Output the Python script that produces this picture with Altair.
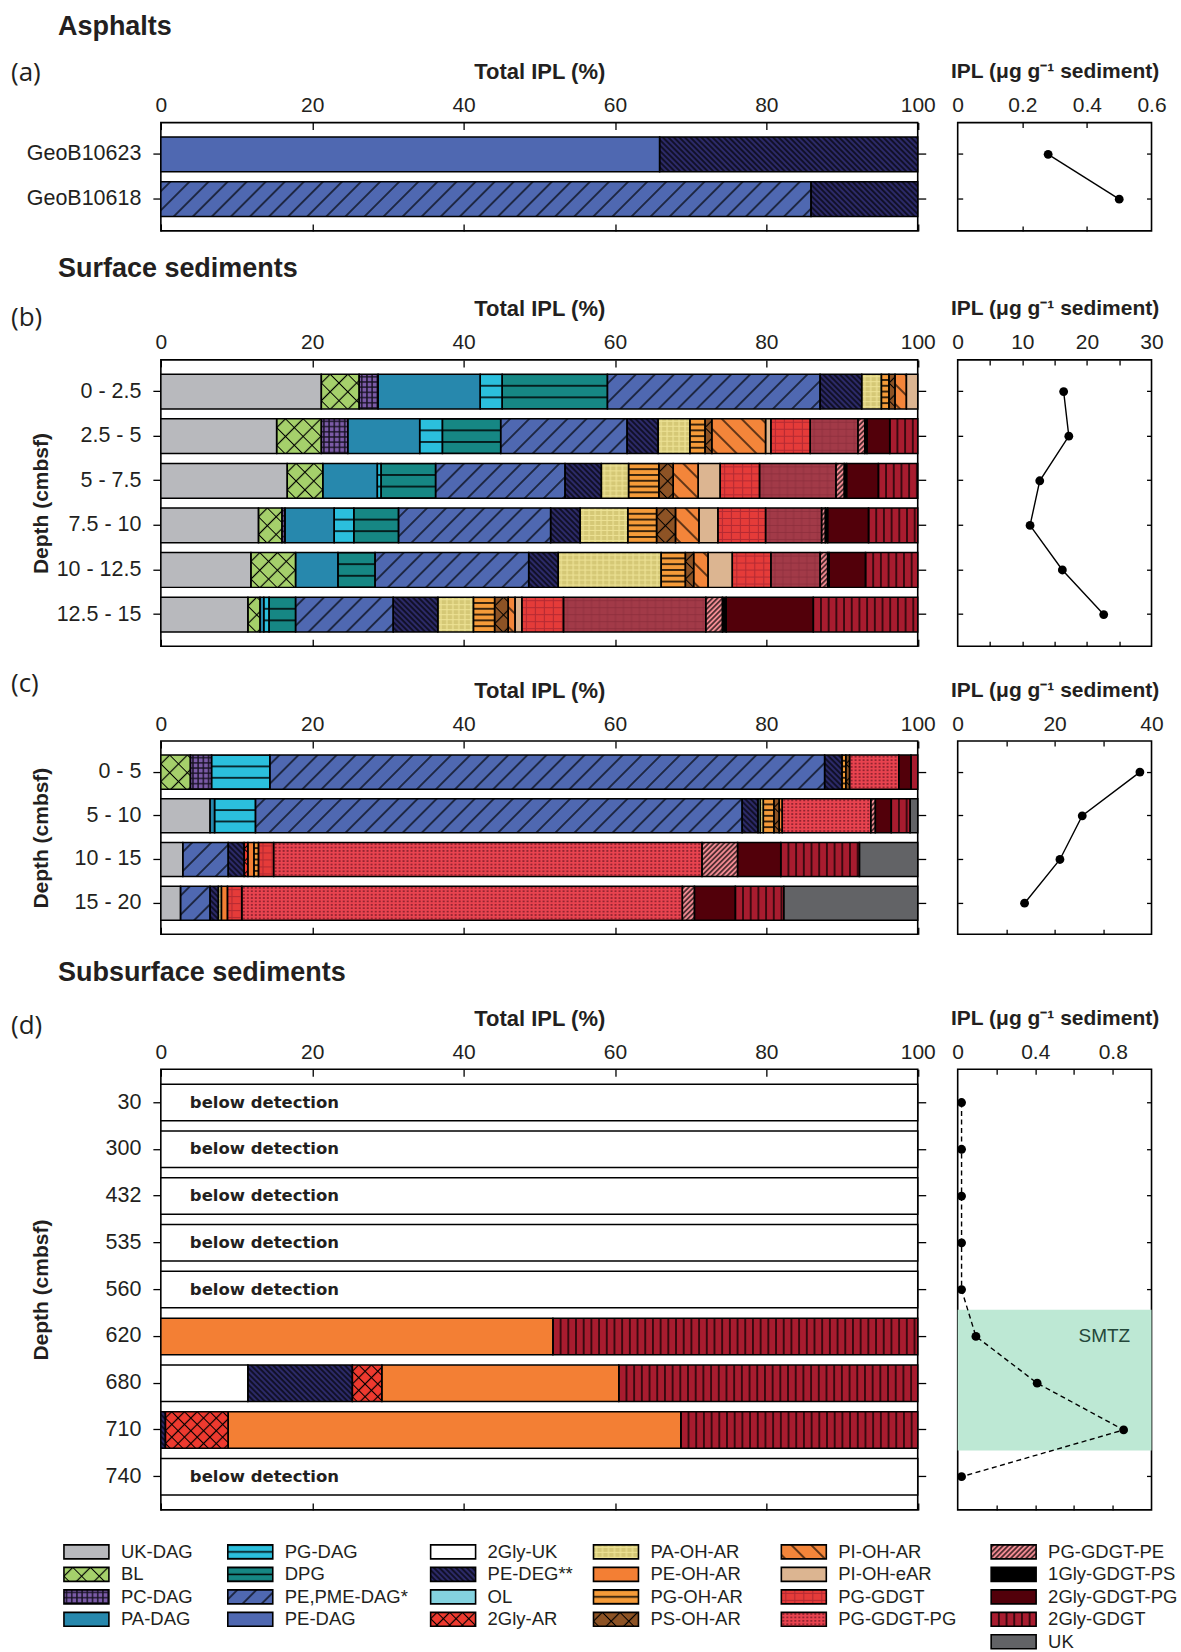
import base64

import altair as alt
import pandas as pd

# ---------------------------------------------------------------- lipid classes
# Stacking order inside every bar and order of the legend (column by column).
LIPIDS = [
    "UK-DAG", "BL", "PC-DAG", "PA-DAG",
    "PG-DAG", "DPG", "PE,PME-DAG*", "PE-DAG",
    "2Gly-UK", "PE-DEG**", "OL", "2Gly-AR",
    "PA-OH-AR", "PE-OH-AR", "PG-OH-AR", "PS-OH-AR",
    "PI-OH-AR", "PI-OH-eAR", "PG-GDGT", "PG-GDGT-PG",
    "PG-GDGT-PE", "1Gly-GDGT-PS", "2Gly-GDGT-PG", "2Gly-GDGT", "UK",
]

# ---------------------------------------------------------------- (a) asphalts
ASPHALT_ROWS = ["GeoB10623", "GeoB10618"]
ASPHALT_IPL = [0.28, 0.50]
ASPHALT = {
    "PE,PME-DAG*": [0.0, 85.9],
    "PE-DAG": [65.9, 0.0],
    "PE-DEG**": [34.1, 14.1],
}

# ---------------------------------------------------------------- (b) surface sediments, core 1
SURF1_ROWS = ["0 - 2.5", "2.5 - 5", "5 - 7.5", "7.5 - 10", "10 - 12.5", "12.5 - 15"]
SURF1_IPL = [16.4, 17.2, 12.7, 11.2, 16.2, 22.6]
SURF1 = {
    "UK-DAG": [21.2, 15.3, 16.7, 12.9, 11.9, 11.5],
    "BL": [5.0, 5.9, 4.7, 3.1, 5.9, 1.6],
    "PC-DAG": [2.5, 3.5, 0.0, 0.4, 0.0, 0.0],
    "PA-DAG": [13.5, 9.5, 7.2, 6.5, 5.6, 0.5],
    "PG-DAG": [2.9, 3.0, 0.5, 2.6, 0.0, 0.7],
    "DPG": [13.9, 7.7, 7.2, 5.9, 4.9, 3.5],
    "PE,PME-DAG*": [28.1, 16.7, 17.1, 20.1, 20.3, 12.9],
    "PE-DEG**": [5.5, 4.1, 4.8, 3.9, 3.9, 5.9],
    "PA-OH-AR": [2.6, 4.2, 3.6, 6.3, 13.6, 4.7],
    "PG-OH-AR": [1.0, 2.0, 4.0, 3.8, 3.2, 2.8],
    "PS-OH-AR": [0.8, 0.9, 1.9, 2.5, 1.1, 1.8],
    "PI-OH-AR": [1.5, 7.1, 3.3, 3.1, 1.9, 0.9],
    "PI-OH-eAR": [1.5, 0.7, 2.9, 2.5, 3.2, 0.9],
    "PG-GDGT": [0.0, 5.2, 5.2, 6.3, 5.1, 5.5],
    "PG-GDGT-PG": [0.0, 6.3, 10.1, 7.4, 6.5, 18.8],
    "PG-GDGT-PE": [0.0, 0.9, 1.1, 0.5, 1.0, 2.2],
    "1Gly-GDGT-PS": [0.0, 0.3, 0.3, 0.3, 0.2, 0.5],
    "2Gly-GDGT-PG": [0.0, 3.0, 4.2, 5.4, 4.8, 11.5],
    "2Gly-GDGT": [0.0, 3.7, 5.2, 6.5, 6.9, 13.8],
}

# ---------------------------------------------------------------- (c) surface sediments, core 2
SURF2_ROWS = ["0 - 5", "5 - 10", "10 - 15", "15 - 20"]
SURF2_IPL = [37.6, 25.7, 21.1, 13.8]
SURF2 = {
    "UK-DAG": [0.0, 6.5, 2.9, 2.6],
    "BL": [3.9, 0.0, 0.0, 0.0],
    "PC-DAG": [2.8, 0.0, 0.0, 0.0],
    "PA-DAG": [0.0, 0.6, 0.0, 0.0],
    "PG-DAG": [7.7, 5.4, 0.0, 0.0],
    "PE,PME-DAG*": [73.3, 64.3, 6.0, 3.9],
    "PE-DEG**": [2.3, 2.1, 2.1, 1.1],
    "OL": [0.0, 0.3, 0.0, 0.0],
    "2Gly-AR": [0.0, 0.0, 0.5, 0.0],
    "PA-OH-AR": [0.0, 0.4, 0.0, 0.4],
    "PE-OH-AR": [0.0, 0.0, 0.8, 0.8],
    "PG-OH-AR": [0.5, 1.4, 0.6, 0.0],
    "PS-OH-AR": [0.5, 0.7, 0.0, 0.0],
    "PI-OH-AR": [0.0, 0.4, 0.0, 0.0],
    "PG-GDGT": [0.0, 0.0, 2.0, 1.9],
    "PG-GDGT-PG": [6.5, 11.7, 56.6, 58.2],
    "PG-GDGT-PE": [0.0, 0.6, 4.7, 1.6],
    "2Gly-GDGT-PG": [1.6, 2.1, 5.7, 5.4],
    "2Gly-GDGT": [0.9, 2.5, 10.4, 6.4],
    "UK": [0.0, 1.0, 7.7, 17.7],
}

# ---------------------------------------------------------------- (d) subsurface sediments
DEEP_ROWS = ["30", "300", "432", "535", "560", "620", "680", "710", "740"]
DEEP_IPL = [0.02, 0.02, 0.02, 0.02, 0.02, 0.094, 0.41, 0.856, 0.02]
DEEP_DETECTED = ["620", "680", "710"]
DEEP = {
    "2Gly-UK": [0.0, 11.5, 0.0],
    "PE-DEG**": [0.0, 13.8, 0.6],
    "2Gly-AR": [0.0, 3.9, 8.3],
    "PE-OH-AR": [51.8, 31.3, 59.8],
    "2Gly-GDGT": [48.2, 39.5, 31.3],
}
# sulfate-methane transition zone, in row positions (0 = first sample row)
SMTZ_ROWS = (4.43, 7.44)
SMTZ_LABEL_ROW = "620"

# ---------------------------------------------------------------- styles
# fill colour and overlay pattern of each class
STYLE = {
    "UK-DAG": ("#b8b9bd", None),
    "BL": ("#a5d06b", ("cross", 12.5)),
    "PC-DAG": ("#7b5ba7", ("grid", 5.2, 5.2, "#15101f", 1.4, 1.0)),
    "PA-DAG": ("#2788ad", None),
    "PG-DAG": ("#2bbfdd", ("hlines", 11.6)),
    "DPG": ("#168784", ("hlines", 11.6)),
    "PE,PME-DAG*": ("#4f68b1", ("diag", 13.5, 45)),
    "PE-DAG": ("#4f68b1", None),
    "2Gly-UK": ("#ffffff", None),
    "PE-DEG**": ("#2c2a68", ("diag", 3.9, -45)),
    "OL": ("#84d2df", None),
    "2Gly-AR": ("#ee3a2f", ("cross", 9.0)),
    "PA-OH-AR": ("#d5c876", ("grid", 6.0, 5.0, "#f1e69a", 1.2, 0.85)),
    "PE-OH-AR": ("#f37f34", None),
    "PG-OH-AR": ("#f59b39", ("hlines", 5.8)),
    "PS-OH-AR": ("#8d5325", ("cross", 12.5)),
    "PI-OH-AR": ("#f3853a", ("diag", 14.0, -45)),
    "PI-OH-eAR": ("#dcb591", None),
    "PG-GDGT": ("#e53b39", ("grid", 9.0, 7.0, "#a72631", 1.1, 0.8)),
    "PG-GDGT-PG": ("#e8434f", ("dots", 4.0, 3.4, "#7a1a26")),
    "PG-GDGT-PE": ("#f18a92", ("diag", 3.6, 45)),
    "1Gly-GDGT-PS": ("#000000", None),
    "2Gly-GDGT-PG": ("#52000a", None),
    "2Gly-GDGT": ("#a81c2f", ("vlines", 7.7)),
    "UK": ("#626366", None),
    "PG-GDGT-PG muted": ("#a23a48", ("grid", 8.0, 7.0, "#8a2c3a", 1.0, 0.7)),
}
SURF1_TINT = {"PG-GDGT-PG": "PG-GDGT-PG muted"}

INK = "#231f20"
FONT = "Liberation Sans"
BAR_W = 757.5
IPL_W = 194
PANEL_GAP = 39.5
ROW_GAP = 21.5
PAD_IN, PAD_OUT = 0.22, 0.32
PCT_TICKS = [0, 20, 40, 60, 80, 100]
IPL_TITLE = "IPL (\u03bcg g\u207b\u00b9 sediment)"


def band_width(n, height):
    step = height / (n - PAD_IN + 2 * PAD_OUT)
    return step * (1 - PAD_IN)


def pattern_url(spec, w, h):
    """SVG image (data URL) holding the hatch/dot overlay of one box."""
    kind = spec[0]
    px = py = 0.0
    tf = ""
    sw = 1.2
    if kind == "cross":
        d = spec[1]
        tw = th = d
        body = (f'<path d="M0 {d/2:.2f}H{d:.2f}M{d/2:.2f} 0V{d:.2f}" '
                f'stroke="#000" stroke-width="{sw}" fill="none"/>')
        tf = "rotate(45)"
    elif kind == "diag":
        d, ang = spec[1], spec[2]
        tw = th = d
        body = (f'<path d="M{d/2:.2f} 0V{d:.2f}" stroke="#000" '
                f'stroke-width="{sw}" fill="none"/>')
        tf = f"rotate({ang})"
    elif kind == "hlines":
        n = max(2, round(h / spec[1]))
        dy = h / n
        tw, th = 10.0, dy
        py = dy / 2
        body = (f'<path d="M0 {dy/2:.2f}H10" stroke="#000" '
                f'stroke-width="1.5" fill="none"/>')
    elif kind == "vlines":
        dx = spec[1]
        tw, th = dx, 10.0
        px = dx / 2
        body = (f'<path d="M{dx/2:.2f} 0V10" stroke="#000" '
                f'stroke-width="1.3" fill="none"/>')
    elif kind == "grid":
        dx, dy, col, lw, op = spec[1:]
        tw, th = dx, dy
        body = (f'<path d="M0 {dy/2:.2f}H{dx:.2f}M{dx/2:.2f} 0V{dy:.2f}" '
                f'stroke="{col}" stroke-opacity="{op}" stroke-width="{lw}" fill="none"/>')
    else:  # dots
        dx, dy, col = spec[1:]
        tw, th = dx, dy
        body = (f'<rect x="{dx/2-1:.2f}" y="{dy/2-0.65:.2f}" width="2" '
                f'height="1.3" fill="{col}"/>')
    tattr = f' patternTransform="{tf}"' if tf else ""
    svg = (
        f'<svg xmlns="http://www.w3.org/2000/svg" width="{w:.2f}" height="{h:.2f}" '
        f'viewBox="0 0 {w:.2f} {h:.2f}" preserveAspectRatio="none"><defs>'
        f'<pattern id="p" patternUnits="userSpaceOnUse" x="{px:.2f}" y="{py:.2f}" '
        f'width="{tw:.2f}" height="{th:.2f}"{tattr}>{body}</pattern></defs>'
        f'<rect width="{w:.2f}" height="{h:.2f}" fill="url(#p)"/></svg>'
    )
    return "data:image/svg+xml;base64," + base64.b64encode(svg.encode()).decode()


def build_segments(rows, comp_rows, table, height, tint=None):
    bw = band_width(len(rows), height)
    tint = tint or {}
    recs = []
    for r in rows:
        if r not in comp_rows:
            recs.append({"row": r, "lipid": "", "x0": 0.0, "x1": 100.0,
                         "fill": "#ffffff", "url": ""})
            continue
        i = comp_rows.index(r)
        left = 0.0
        for lip in LIPIDS:
            v = table.get(lip, [0.0] * len(comp_rows))[i]
            if not v:
                continue
            color, pat = STYLE[tint.get(lip, lip)]
            w = v / 100 * BAR_W
            url = pattern_url(pat, w, bw) if pat and w >= 1.5 else ""
            recs.append({"row": r, "lipid": lip, "x0": left, "x1": left + v,
                         "fill": color, "url": url})
            left += v
    return pd.DataFrame(recs)


def band_scale(rows):
    return alt.Scale(type="band", domain=rows, paddingInner=PAD_IN,
                     paddingOuter=PAD_OUT)


def text_layer(txt, dx, dy, size, weight, font=FONT):
    return alt.Chart(pd.DataFrame({"t": [txt]})).mark_text(
        align="left", baseline="middle", font=font, fontSize=size,
        fontWeight=weight, color=INK,
    ).encode(text="t:N", x=alt.value(dx), y=alt.value(dy))


def composition_panel(rows, comp_rows, table, height, y_title, label, label_dy,
                      section=None, section_dy=-95, tint=None):
    seg = build_segments(rows, comp_rows, table, height, tint)
    pat = seg[seg["url"] != ""]

    def xsc():
        return alt.Scale(domain=[0, 100], nice=False, zero=False)

    fills = alt.Chart(seg).mark_bar(strokeWidth=0).encode(
        x=alt.X("x0:Q", scale=xsc(), axis=alt.Axis(
            orient="top", values=PCT_TICKS, title="Total IPL (%)", ticks=False,
            tickSize=0, labelPadding=17, labelBaseline="middle", labelFontSize=21,
            labelFlush=False, labelOverlap=False, titleY=-51,
            titleBaseline="middle", titleFontSize=22)),
        x2="x1:Q",
        y=alt.Y("row:N", scale=band_scale(rows), axis=alt.Axis(
            orient="left", title=y_title, tickSize=8, labelPadding=12,
            labelFontSize=21.5, titleX=-119, titleY=height / 2, titleAngle=270,
            titleBaseline="middle", titleAlign="center", titleFontSize=21)),
        fill=alt.Fill("fill:N", scale=None),
    )
    hatch = alt.Chart(pat).mark_image(aspect=False).encode(
        x=alt.X("x0:Q", scale=xsc(), axis=alt.Axis(
            orient="bottom", values=PCT_TICKS, labels=False, title=None,
            tickSize=7, offset=-7)),
        x2="x1:Q",
        y=alt.Y("row:N", scale=band_scale(rows), axis=None),
        url="url:N",
    )
    outline = alt.Chart(seg).mark_bar(
        fill="white", fillOpacity=0, stroke="black", strokeWidth=1.5
    ).encode(
        x=alt.X("x0:Q", scale=xsc(), axis=alt.Axis(
            orient="top", values=PCT_TICKS, labels=False, title=None,
            tickSize=7, offset=-7)),
        x2="x1:Q",
        y=alt.Y("row:N", scale=band_scale(rows), axis=alt.Axis(
            orient="right", labels=False, title=None, tickSize=8)),
    )
    layers = [fills, hatch, outline]
    blank = [r for r in rows if r not in comp_rows]
    if blank:
        layers.append(
            alt.Chart(pd.DataFrame({"row": blank, "note": "below detection"}))
            .mark_text(align="left", baseline="middle", font="DejaVu Sans",
                       fontWeight="bold", fontSize=16.5, color=INK)
            .encode(x=alt.value(29),
                    y=alt.Y("row:N", scale=band_scale(rows), bandPosition=0.5,
                            axis=None),
                    text="note:N")
        )
    layers.append(text_layer(label, -150, label_dy, 26, "normal", "Open Sans"))
    if section:
        layers.append(text_layer(section, -103, section_dy, 27, "bold"))
    return (alt.layer(*layers)
            .resolve_scale(x="independent", y="independent")
            .properties(width=BAR_W, height=height))


def ipl_panel(rows, values, height, domain, label_values, tick_values,
              dashed=False, zone=None):
    df = pd.DataFrame({"row": rows, "ipl": values, "idx": list(range(len(rows)))})

    def xsc():
        return alt.Scale(domain=domain, nice=False, zero=False)

    def yenc(axis=None):
        return alt.Y("row:N", scale=band_scale(rows), bandPosition=0.5,
                     axis=axis)

    layers = []
    if zone is not None:
        lo = -(PAD_OUT + (1 - PAD_IN) / 2)
        hi = len(rows) - 1 - lo
        zdf = pd.DataFrame({"top": [zone[0]], "bottom": [zone[1]],
                            "x0": [domain[0]], "x1": [domain[1]],
                            "name": ["SMTZ"], "row": [SMTZ_LABEL_ROW],
                            "lx": [domain[0] + 0.89 * (domain[1] - domain[0])]})
        zy = alt.Scale(domain=[lo, hi], reverse=True, nice=False, zero=False)
        layers.append(alt.Chart(zdf).mark_rect(color="#bde8d4").encode(
            x=alt.X("x0:Q", scale=xsc(), axis=None), x2="x1:Q",
            y=alt.Y("top:Q", scale=zy, axis=None), y2="bottom:Q"))
        layers.append(alt.Chart(zdf).mark_text(
            align="right", baseline="middle", font=FONT, fontSize=19,
            color="#24473a").encode(
            x=alt.X("lx:Q", scale=xsc(), axis=None), y=yenc(), text="name:N"))
    line_kw = {"strokeDash": [5, 3.5]} if dashed else {}
    layers.append(alt.Chart(df).mark_line(color="black", strokeWidth=1.4, **line_kw).encode(
        x=alt.X("ipl:Q", scale=xsc(), axis=alt.Axis(
            orient="top", values=label_values, format="~r", title=IPL_TITLE,
            ticks=False, tickSize=0, labelPadding=17, labelBaseline="middle",
            labelFontSize=21, labelFlush=False, labelOverlap=False, titleY=-51,
            titleBaseline="middle")),
        y=yenc(alt.Axis(orient="left", offset=-5, tickSize=5, labels=False,
                        title=None)),
        order="idx:Q",
    ))
    layers.append(alt.Chart(df).mark_circle(color="black", size=78, opacity=1).encode(
        x=alt.X("ipl:Q", scale=xsc(), axis=alt.Axis(
            orient="top", values=tick_values, labels=False, title=None,
            tickSize=5, offset=-5)),
        y=yenc(alt.Axis(orient="right", offset=-5, tickSize=5, labels=False,
                        title=None)),
    ))
    layers.append(alt.Chart(df).mark_point(opacity=0).encode(
        x=alt.X("ipl:Q", scale=xsc(), axis=alt.Axis(
            orient="bottom", values=tick_values, labels=False, title=None,
            tickSize=5, offset=-5)),
        y=yenc(),
    ))
    return (alt.layer(*layers)
            .resolve_scale(x="independent", y="independent")
            .properties(width=IPL_W, height=height))


def row(bar, ipl):
    return alt.hconcat(bar, ipl, spacing=PANEL_GAP, bounds="flush")


H_A, H_B, H_C, H_D = 108.4, 286.6, 193.3, 441.0

panel_a = row(
    composition_panel(ASPHALT_ROWS, ASPHALT_ROWS, ASPHALT, H_A, None, "(a)", -50,
                      "Asphalts", -95.3),
    ipl_panel(ASPHALT_ROWS, ASPHALT_IPL, H_A, [0, 0.6], [0, 0.2, 0.4, 0.6], [0.2, 0.4]),
)
panel_b = row(
    composition_panel(SURF1_ROWS, SURF1_ROWS, SURF1, H_B, "Depth (cmbsf)", "(b)", -42,
                      "Surface sediments", -91, tint=SURF1_TINT),
    ipl_panel(SURF1_ROWS, SURF1_IPL, H_B, [0, 30], [0, 10, 20, 30],
              [5, 10, 15, 20, 25]),
)
panel_c = row(
    composition_panel(SURF2_ROWS, SURF2_ROWS, SURF2, H_C, "Depth (cmbsf)", "(c)", -57),
    ipl_panel(SURF2_ROWS, SURF2_IPL, H_C, [0, 40], [0, 20, 40], [10, 20, 30]),
)
panel_d = row(
    composition_panel(DEEP_ROWS, DEEP_DETECTED, DEEP, H_D, "Depth (cmbsf)", "(d)", -43.5,
                      "Subsurface sediments", -96.4),
    ipl_panel(DEEP_ROWS, DEEP_IPL, H_D, [0, 1.0], [0, 0.4, 0.8],
              [0.2, 0.4, 0.6, 0.8], dashed=True, zone=SMTZ_ROWS),
)

# ---------------------------------------------------------------- legend
LEGEND_COLUMN_X = [63, 227, 430, 593, 781, 991]   # swatch left edges, figure pixels
SWATCH_W, SWATCH_H = 45, 14
ROW_STEP = 22.5                                    # legend row pitch, pixels
leg_recs = []
for k, lip in enumerate(LIPIDS):
    col, r = (k // 4, k % 4) if k < 20 else (5, k - 20)
    color, pat = STYLE[lip]
    x0 = LEGEND_COLUMN_X[col]
    leg_recs.append({"lipid": lip, "row": r, "x0": x0, "x1": x0 + SWATCH_W,
                     "tx": x0 + SWATCH_W + 12, "fill": color,
                     "url": pattern_url(pat, SWATCH_W, SWATCH_H) if pat else ""})
leg = pd.DataFrame(leg_recs)
LEG_H = 117
LEG_LEFT, LEG_W = 160, 990          # legend frame shares the left edge of the panels
half = SWATCH_H / 2 / ROW_STEP
lo_row = -17.5 / ROW_STEP


def lx():
    return alt.Scale(domain=[LEG_LEFT, LEG_LEFT + LEG_W], nice=False, zero=False)


def ly():
    return alt.Scale(domain=[lo_row, lo_row + LEG_H / ROW_STEP], reverse=True,
                     nice=False, zero=False)


def leg_base(df):
    return alt.Chart(df).transform_calculate(
        ya=f"datum.row - {half}", yb=f"datum.row + {half}")


legend = alt.layer(
    leg_base(leg).mark_rect(strokeWidth=0).encode(
        x=alt.X("x0:Q", scale=lx(), axis=None), x2="x1:Q",
        y=alt.Y("ya:Q", scale=ly(), axis=None), y2="yb:Q",
        fill=alt.Fill("fill:N", scale=None)),
    leg_base(leg[leg["url"] != ""]).mark_image(aspect=False).encode(
        x=alt.X("x0:Q", scale=lx(), axis=None), x2="x1:Q",
        y=alt.Y("ya:Q", scale=ly(), axis=None), y2="yb:Q", url="url:N"),
    leg_base(leg).mark_rect(fill="white", fillOpacity=0, stroke="black",
                            strokeWidth=1.6).encode(
        x=alt.X("x0:Q", scale=lx(), axis=None), x2="x1:Q",
        y=alt.Y("ya:Q", scale=ly(), axis=None), y2="yb:Q"),
    alt.Chart(leg).mark_text(align="left", baseline="middle", font=FONT,
                             fontSize=18.5, color=INK).encode(
        x=alt.X("tx:Q", scale=lx(), axis=None),
        y=alt.Y("row:Q", scale=ly(), axis=None), text="lipid:N"),
).properties(width=LEG_W, height=LEG_H,
             view=alt.ViewBackground(stroke="transparent"))

chart = (
    alt.vconcat(panel_a, panel_b, panel_c, panel_d, legend, spacing=ROW_GAP)
    .properties(padding={"left": 10, "top": 11, "right": 2, "bottom": 0})
    .configure(background="white", font=FONT)
    .configure_view(stroke="black", strokeWidth=1.6)
    .configure_axis(domain=False, grid=False, tickColor="black", tickWidth=1.3,
                    labelColor=INK, titleColor=INK, labelFont=FONT, titleFont=FONT,
                    labelFontSize=20.5, titleFontSize=21, titleFontWeight="bold")
)

chart.save("out.html", embed_options={"renderer": "svg", "actions": False})
